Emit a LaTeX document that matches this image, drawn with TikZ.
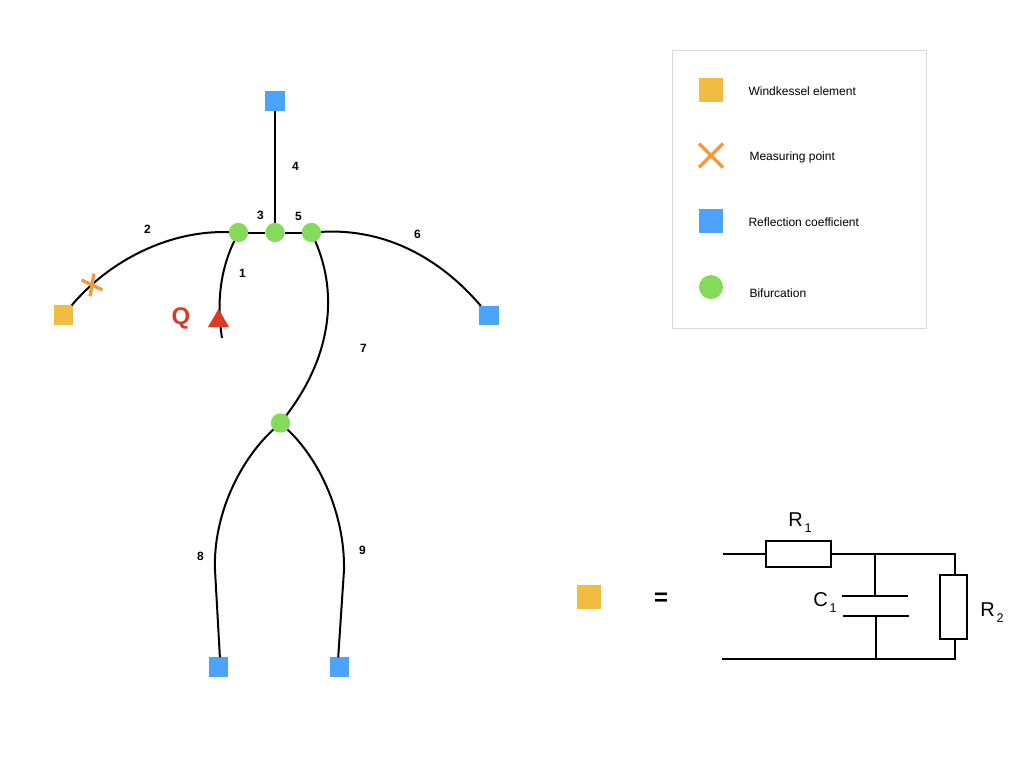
\documentclass[tikz,border=0pt]{standalone}
\usepackage{fontspec}
\setmainfont{Liberation Sans}
\usetikzlibrary{shapes.geometric, shapes.misc}

\definecolor{wkyellow}{HTML}{F0BC42}
\definecolor{refblue}{HTML}{4BA3FB}
\definecolor{bifgreen}{HTML}{84DB5B}
\definecolor{measorange}{HTML}{F09B38}
\definecolor{flowred}{HTML}{DB3A26}

\newcommand{\circsub}[1]{\kern1.5pt\raisebox{-4.5pt}{\fontsize{9.5}{9.5}\selectfont #1}}

\begin{document}
\begin{tikzpicture}[x=0.75pt, y=-0.75pt, line width=1.5pt,
	windkessel/.style={rectangle, fill=wkyellow, inner sep=0, outer sep=0, minimum size=14.5pt},
	reflection/.style={rectangle, fill=refblue, inner sep=0, outer sep=0, minimum size=14.5pt},
	bifurcation/.style={circle, fill=bifgreen, inner sep=0, outer sep=0, minimum size=14.5pt},
	measure/.style={cross out, draw=measorange, line width=2.5pt, inner sep=0, outer sep=0},
	seglabel/.style={font=\fontsize{9}{9}\selectfont\bfseries, inner sep=0},
	legendtext/.style={anchor=west, font=\fontsize{9}{9}\selectfont, inner sep=0},
	circuittext/.style={font=\fontsize{15}{15}\selectfont, inner sep=0},
	resistor/.style={rectangle, draw=black, inner sep=0, outer sep=0}]
	\useasboundingbox (0,0) rectangle (1024,768);
	
	% vessel tree
	\node[windkessel] (wk) at (63.5,315){};
	\node[reflection] (r4) at (275,101){};
	\node[reflection] (r6) at (489,315.5){};
	\node[reflection] (r8) at (218.3,667){};
	\node[reflection] (r9) at (339.8,667){};
	
	\node[bifurcation] (b1) at (238.5,232.5){};
	\node[bifurcation] (b2) at (275,232.5){};
	\node[bifurcation] (b3) at (311.5,232.5){};
	\node[bifurcation] (b4) at (280.5,423){};
	
	\coordinate (inlet) at (222,338);
	\coordinate (bend8) at (215,570);
	\coordinate (bend9) at (344,570);
	
	\draw (b1) .. controls (224,262) and (215,295) .. (inlet);
	\draw (b1) .. controls (170,230) and (110,260) .. (wk);
	\path (b1) edge (b2);
	\path (b2) edge (b3);
	\path (b2) edge (r4);
	\draw (b3) .. controls (385,228) and (440,258) .. (r6);
	\draw (b3) .. controls (339,296) and (330,358) .. (b4);
	\draw (b4) .. controls (240,460) and (213,515) .. (bend8) -- ([xshift=1.2pt]r8.north);
	\draw (b4) .. controls (320,460) and (345,515) .. (bend9) -- ([xshift=-1.2pt]r9.north);
	
	\node[measure, rotate=-62.6, minimum width=13.8pt, minimum height=10.4pt] (mp) at (92,285){};
	\node[regular polygon, regular polygon sides=3, fill=flowred, inner sep=0, outer sep=0, minimum size=18.2pt] (inflow) at (218.5,321){};
	\node[text=flowred, font=\fontsize{18}{18}\selectfont\bfseries, inner sep=0] (q) at (181,318.5){Q};
	
	\node[seglabel] (s1) at (242.5,273.5){1};
	\node[seglabel] (s2) at (147.5,229){2};
	\node[seglabel] (s3) at (260.5,215){3};
	\node[seglabel] (s4) at (295.5,166){4};
	\node[seglabel] (s5) at (298.5,216){5};
	\node[seglabel] (s6) at (417.5,234){6};
	\node[seglabel] (s7) at (363.5,348){7};
	\node[seglabel] (s8) at (200.5,556){8};
	\node[seglabel] (s9) at (362.5,550){9};
	
	% legend
	\node[rectangle, draw=black!15, line width=0.75pt, minimum width=190.5pt, minimum height=208.5pt, inner sep=0, outer sep=0] (legend) at (799,189){};
	\node[windkessel, minimum size=18pt] (l1) at (711,90){};
	\node[measure, minimum size=18pt] (l2) at (711,155.5){};
	\node[reflection, minimum size=18pt] (l3) at (711,221){};
	\node[bifurcation, minimum size=18pt] (l4) at (711,287){};
	\node[legendtext] (t1) at (747.5,91){Windkessel element};
	\node[legendtext] (t2) at (748.5,157.5){Measuring point};
	\node[legendtext] (t3) at (747.5,222){Reflection coefficient};
	\node[legendtext] (t4) at (748.5,293){Bifurcation};
	
	% equivalent circuit
	\node[windkessel, minimum size=18pt] (wk2) at (589,596.5){};
	\node[font=\fontsize{18}{18}\selectfont\bfseries, inner sep=0] (equal) at (661,599.5){=};
	
	\node[resistor, minimum width=49pt, minimum height=19.7pt] (R1) at (798.5,554){};
	\node[resistor, minimum width=20pt, minimum height=48pt] (R2) at (953.5,607){};
	
	\coordinate (in1) at (723,554);
	\coordinate (in2) at (722,659);
	\coordinate (top) at (875,554);
	\coordinate (corner1) at (954.5,554);
	\coordinate (corner2) at (954.5,659);
	\coordinate (bottom) at (876,659);
	\coordinate (plate1) at (875,596);
	\coordinate (plate2) at (876,616);
	\coordinate (plate1l) at (842,596);
	\coordinate (plate1r) at (908,596);
	\coordinate (plate2l) at (843,616);
	\coordinate (plate2r) at (909,616);
	
	\draw (in1) -- (R1);
	\draw (R1) -- (corner1) -- (R2.north -| corner1);
	\draw (R2.south -| corner2) -- (corner2) -- (in2);
	\draw (top) -- (plate1);
	\draw (plate2) -- (bottom);
	\draw (plate1l) -- (plate1r);
	\draw (plate2l) -- (plate2r);
	
	\node[circuittext] (lr1) at (800,523){R\circsub{1}};
	\node[circuittext] (lc1) at (825,603){C\circsub{1}};
	\node[circuittext] (lr2) at (992,613){R\circsub{2}};
\end{tikzpicture}
\end{document}
